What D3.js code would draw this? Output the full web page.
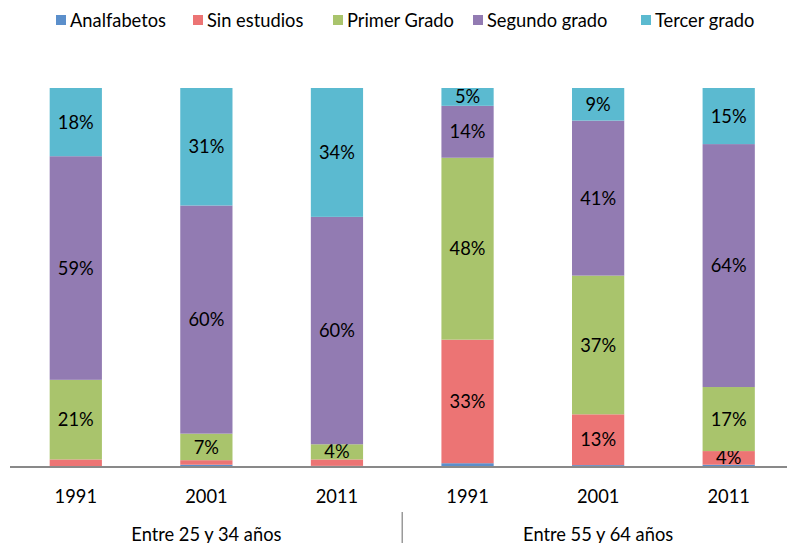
<!DOCTYPE html>
<html>
<head>
<meta charset="utf-8">
<style>
  body { margin: 0; background: #fff; }
  svg { font-family: Lato, sans-serif; }
</style>
</head>
<body>
<svg width="787" height="543"></svg>
<script src="https://cdnjs.cloudflare.com/ajax/libs/d3/7.8.5/d3.min.js"></script>
<script>

// categories
var years = ["1991", "2001", "2011", "1991", "2001", "2011"];
var groups = ["Entre 25 y 34 años", "Entre 55 y 64 años"];
var levels = ["Analfabetos", "Sin estudios", "Primer Grado", "Segundo grado", "Tercer grado"];

// series values (% of each bar), one array per level
var analfabetos = [0, 0.6, 0.3, 1.0, 0.5, 0.6];
var sinEstudios = [2.0, 1.2, 1.7, 32.6, 13.4, 3.6];
var primerGrado = [21, 7, 4, 48, 36.6, 16.9];
var segundoGrado = [59, 60.2, 60, 13.7, 40.9, 64.1];
var tercerGrado = [18, 31, 34, 4.7, 8.6, 14.8];

var colors = ["#5b8fcb", "#ec7474", "#a9c46c", "#927bb2", "#5bbad0"];

var svg = d3.select("svg");
var fs = 18.3;

var rows = years.map(function(y, i) {
  return {
    key: i,
    year: y,
    "Analfabetos": analfabetos[i],
    "Sin estudios": sinEstudios[i],
    "Primer Grado": primerGrado[i],
    "Segundo grado": segundoGrado[i],
    "Tercer grado": tercerGrado[i]
  };
});

var x = d3.scaleBand()
    .domain(d3.range(years.length))
    .range([10.5, 794])
    .paddingInner(0.6)
    .paddingOuter(0.3);

var y = d3.scaleLinear()
    .domain([0, 100])
    .range([467, 88]);

var color = d3.scaleOrdinal(levels, colors);

var series = d3.stack().keys(levels)(rows);

var layer = svg.selectAll(".layer")
  .data(series)
  .enter().append("g")
    .attr("class", "layer")
    .attr("fill", function(d) { return color(d.key); });

layer.selectAll("rect")
  .data(function(d) { return d; })
  .enter().append("rect")
    .attr("x", function(d) { return x(d.data.key); })
    .attr("y", function(d) { return y(d[1]); })
    .attr("width", x.bandwidth())
    .attr("height", function(d) { return y(d[0]) - y(d[1]); });

// data labels
layer.selectAll("text")
  .data(function(d) { return d.filter(function(p) { return p[1] - p[0] >= 3.5; }); })
  .enter().append("text")
    .attr("x", function(d) { return x(d.data.key) + x.bandwidth() / 2; })
    .attr("y", function(d) { return (y(d[0]) + y(d[1])) / 2; })
    .attr("dy", "0.36em")
    .attr("text-anchor", "middle")
    .attr("font-size", fs)
    .attr("fill", "#000")
    .text(function(d) { return Math.round(d[1] - d[0]) + "%"; });

// axis
var axis = svg.append("g")
    .attr("transform", "translate(0,467)")
    .call(d3.axisBottom(x).tickSize(0).tickPadding(23)
      .tickFormat(function(i) { return years[i]; }));
axis.select(".domain").attr("stroke", "#898989").attr("stroke-width", 2).attr("d", "M10,0H794");
axis.selectAll("text").attr("font-size", fs).attr("font-family", "Lato").attr("fill", "#000");

// group labels and separator
groups.forEach(function(g, i) {
  var cx = x(i * 3 + 1) + x.bandwidth() / 2;
  svg.append("text")
    .attr("x", cx)
    .attr("y", 541)
    .attr("text-anchor", "middle")
    .attr("font-size", fs)
    .text(g);
});
var sepX = (x(2) + x(3) + x.bandwidth()) / 2;
svg.append("line")
    .attr("x1", sepX).attr("x2", sepX)
    .attr("y1", 512).attr("y2", 543)
    .attr("stroke", "#9a9a9a")
    .attr("stroke-width", 1.5);

// legend
var legendX = [56, 193, 333, 473, 641];
var legend = svg.selectAll(".legend")
  .data(levels)
  .enter().append("g")
    .attr("class", "legend")
    .attr("transform", function(d, i) { return "translate(" + legendX[i] + ",20)"; });
legend.append("rect")
    .attr("y", -5)
    .attr("width", 10)
    .attr("height", 10)
    .attr("fill", function(d) { return color(d); });
legend.append("text")
    .attr("x", 14)
    .attr("dy", "0.36em")
    .attr("font-size", fs)
    .text(function(d) { return d; });

</script>
</body>
</html>
